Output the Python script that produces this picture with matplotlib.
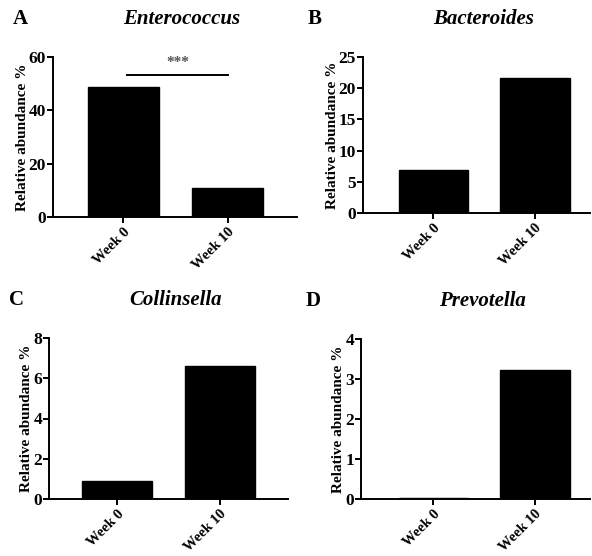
import matplotlib
matplotlib.use("Agg")
import matplotlib.pyplot as plt

plt.rcParams['font.family'] = ['Liberation Serif', 'DejaVu Serif']
plt.rcParams['font.weight'] = 'bold'

# data
groups = ["Week 0", "Week 10"]
enterococcus = [48.8, 11.0]
bacteroides = [6.9, 21.7]
collinsella = [0.9, 6.6]
prevotella = [0.02, 3.22]

panels = [
    # letter, title, values, ymax, ystep, axes rect (pixels: left, top, right, bottom), xlim
    ("A", "Enterococcus", enterococcus, 60, 20, (53, 57, 297, 217), (-0.67, 1.66)),
    ("B", "Bacteroides", bacteroides, 25, 5, (363, 57, 590, 213), (-0.69, 1.54)),
    ("C", "Collinsella", collinsella, 8, 2, (49, 338, 288, 499), (-0.66, 1.66)),
    ("D", "Prevotella", prevotella, 4, 1, (361, 339, 590, 499), (-0.71, 1.54)),
]

W, H = 592, 556
fig = plt.figure(figsize=(W / 100, H / 100), dpi=100)

for letter, title, vals, ymax, ystep, (l, t, r, b), xlim in panels:
    ax = fig.add_axes([l / W, 1 - b / H, (r - l) / W, (b - t) / H])
    ax.bar(range(len(groups)), vals, width=0.68, color="black", edgecolor="black")
    ax.set_xlim(*xlim)
    ax.set_ylim(0, ymax)
    ax.set_yticks(range(0, ymax + 1, ystep))
    ax.set_xticks(range(len(groups)))
    ax.set_xticklabels(groups, rotation=45, ha="right", rotation_mode="anchor",
                       fontsize=10.5, fontweight="bold")
    for lab in ax.get_yticklabels():
        lab.set_fontsize(12.5)
        lab.set_fontweight("bold")
    ax.set_ylabel("Relative abundance %", fontsize=11, fontweight="bold", labelpad=0)
    for s in ["top", "right"]:
        ax.spines[s].set_visible(False)
    for s in ["left", "bottom"]:
        ax.spines[s].set_linewidth(1.4)
    ax.tick_params(width=1.4, length=4)
    ax.tick_params(axis="y", pad=1)
    ax.tick_params(axis="x", pad=2)
    cx = (l + r) / 2 / W + 0.012
    fig.text(cx, 1 - (t - 38) / H, title, ha="center", va="center",
             fontsize=15, fontweight="bold", fontstyle="italic")
    lx = l - 33 if letter in "AC" else l - 48
    fig.text(lx / W, 1 - (t - 38) / H, letter,
             ha="center", va="center", fontsize=15, fontweight="bold")
    if letter == "A":
        ax.plot([0.04, 1.0], [53.3, 53.3], color="black", lw=1.4)
        ax.text(0.52, 55.5, "***", ha="center", va="bottom", color="#555555",
                fontsize=11, fontweight="bold")

fig.savefig("out.png", dpi=100)
